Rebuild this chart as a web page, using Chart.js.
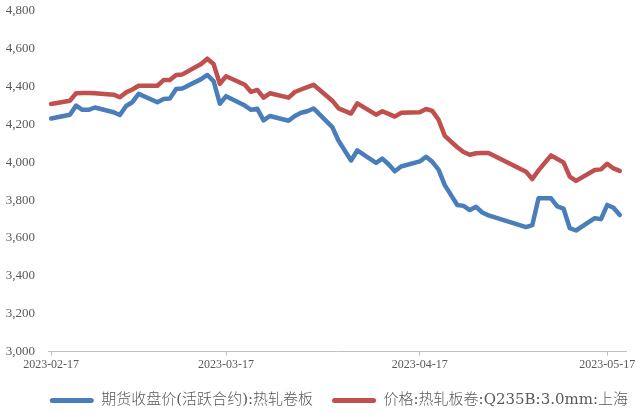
<!DOCTYPE html>
<html>
<head>
<meta charset="utf-8">
<script src="https://cdn.jsdelivr.net/npm/chart.js@4.4.1/dist/chart.umd.min.js"></script>
<style>
  html, body { margin: 0; padding: 0; background: #ffffff; }
  #wrap { width: 640px; height: 414px; position: relative; }
</style>
</head>
<body>
<div id="wrap"><canvas id="c" width="640" height="414"></canvas></div>
<script>
// Trading dates (including the 2023-04-23 and 2023-05-06 make-up workdays)
const dates = [
  '2023-02-17','2023-02-20','2023-02-21','2023-02-22','2023-02-23','2023-02-24','2023-02-27','2023-02-28',
  '2023-03-01','2023-03-02','2023-03-03','2023-03-06','2023-03-07','2023-03-08','2023-03-09','2023-03-10',
  '2023-03-13','2023-03-14','2023-03-15','2023-03-16','2023-03-17','2023-03-20','2023-03-21','2023-03-22',
  '2023-03-23','2023-03-24','2023-03-27','2023-03-28','2023-03-29','2023-03-30','2023-03-31',
  '2023-04-03','2023-04-04','2023-04-06','2023-04-07','2023-04-10','2023-04-11','2023-04-12','2023-04-13',
  '2023-04-14','2023-04-17','2023-04-18','2023-04-19','2023-04-20','2023-04-21','2023-04-23','2023-04-24',
  '2023-04-25','2023-04-26','2023-04-27','2023-04-28',
  '2023-05-04','2023-05-05','2023-05-06','2023-05-08','2023-05-09','2023-05-10','2023-05-11','2023-05-12',
  '2023-05-15','2023-05-16','2023-05-17','2023-05-18','2023-05-19'
];

// 期货收盘价(活跃合约):热轧卷板
const futuresClose = [
  4232, 4252, 4300, 4278, 4278, 4290, 4265, 4250,
  4298, 4318, 4362, 4318, 4335, 4337, 4388, 4390,
  4440, 4462, 4430, 4310, 4350, 4300, 4278, 4283,
  4222, 4245, 4220, 4245, 4262, 4270, 4285,
  4186, 4114, 4010, 4063, 3998, 4020, 3990, 3953,
  3978, 4005, 4030, 4003, 3962, 3880, 3775, 3770,
  3748, 3765, 3735, 3720,
  3658, 3668, 3810, 3810, 3768, 3756, 3652, 3640,
  3705, 3700, 3775, 3760, 3722
];

// 价格:热轧板卷:Q235B:3.0mm:上海
const spotShanghai = [
  4309, 4326, 4365, 4367, 4367, 4365, 4358, 4344,
  4370, 4385, 4405, 4405, 4435, 4435, 4462, 4465,
  4520, 4548, 4520, 4415, 4455, 4410, 4372, 4383,
  4342, 4365, 4342, 4372, 4385, 4398, 4410,
  4326, 4285, 4258, 4312, 4252, 4270, 4256, 4242,
  4262, 4265, 4282, 4272, 4225, 4140, 4080, 4055,
  4040, 4048, 4050, 4050,
  3950, 3912, 3958, 4037, 4018, 4000, 3925, 3902,
  3960, 3963, 3993, 3968, 3955
];

const tickLabels = ['2023-02-17', '2023-03-17', '2023-04-17', '2023-05-17'];
const seriesNames = ['期货收盘价(活跃合约):热轧卷板', '价格:热轧板卷:Q235B:3.0mm:上海'];

const DAY = 86400000;
const origin = Date.parse(dates[0] + 'T00:00:00Z');
const dayOf = s => Math.round((Date.parse(s + 'T00:00:00Z') - origin) / DAY);
const tickDays = tickLabels.map(dayOf);

const toPoints = vals => dates.map((d, i) => ({ x: dayOf(d), y: vals[i] }));

const BLUE = '#4a7ebb';
const RED = '#c0504d';
const TEXT = '#595959';
const AXIS = '#bfbfbf';
const SERIF = '"Liberation Serif", "Times New Roman", serif';

// Push the bottom legend row towards the right edge of the plot
const legendShift = {
  id: 'legendShift',
  afterLayout(chart) {
    if (chart.legend) { chart.legend.right += 21; }
  }
};

new Chart(document.getElementById('c'), {
  type: 'line',
  plugins: [legendShift],
  data: {
    datasets: [
      {
        label: seriesNames[0],
        data: toPoints(futuresClose),
        borderColor: BLUE,
        backgroundColor: BLUE,
        borderWidth: 4.5,
        pointRadius: 0,
        tension: 0,
        borderJoinStyle: 'round',
        borderCapStyle: 'round'
      },
      {
        label: seriesNames[1],
        data: toPoints(spotShanghai),
        borderColor: RED,
        backgroundColor: RED,
        borderWidth: 4.5,
        pointRadius: 0,
        tension: 0,
        borderJoinStyle: 'round',
        borderCapStyle: 'round'
      }
    ]
  },
  options: {
    responsive: false,
    animation: false,
    events: [],
    layout: { autoPadding: false, padding: { left: 0, right: 14, top: 11, bottom: -4 } },
    scales: {
      x: {
        type: 'linear',
        min: -0.5,
        max: 92,
        afterBuildTicks: axis => { axis.ticks = tickDays.map(v => ({ value: v })); },
        ticks: {
          autoSkip: false,
          maxRotation: 0,
          padding: 2,
          color: TEXT,
          font: { family: SERIF, size: 12 },
          callback: v => tickLabels[tickDays.indexOf(v)] || ''
        },
        grid: { drawOnChartArea: false, drawTicks: true, tickLength: 4, color: AXIS },
        border: { display: true, color: AXIS, width: 1 }
      },
      y: {
        min: 3000,
        max: 4800,
        afterFit: scale => {
          scale.width = 48;
          scale.paddingTop = 0;
          scale.paddingBottom = 0;
        },
        ticks: {
          stepSize: 200,
          padding: 13,
          color: TEXT,
          font: { family: SERIF, size: 13 },
          callback: v => v.toLocaleString('en-US')
        },
        grid: { display: false, drawTicks: false },
        border: { display: false }
      }
    },
    plugins: {
      tooltip: { enabled: false },
      legend: {
        position: 'bottom',
        align: 'end',
        labels: {
          boxWidth: 44,
          boxHeight: 5,
          useBorderRadius: true,
          borderRadius: 2.5,
          padding: 19,
          color: TEXT,
          font: { family: '"DejaVu Serif", "Noto Sans CJK SC", serif', size: 15, weight: 300 },
          generateLabels: chart => Chart.defaults.plugins.legend.labels.generateLabels(chart)
            .map(l => Object.assign(l, { lineWidth: 0 }))
        }
      }
    }
  }
});
</script>
</body>
</html>
